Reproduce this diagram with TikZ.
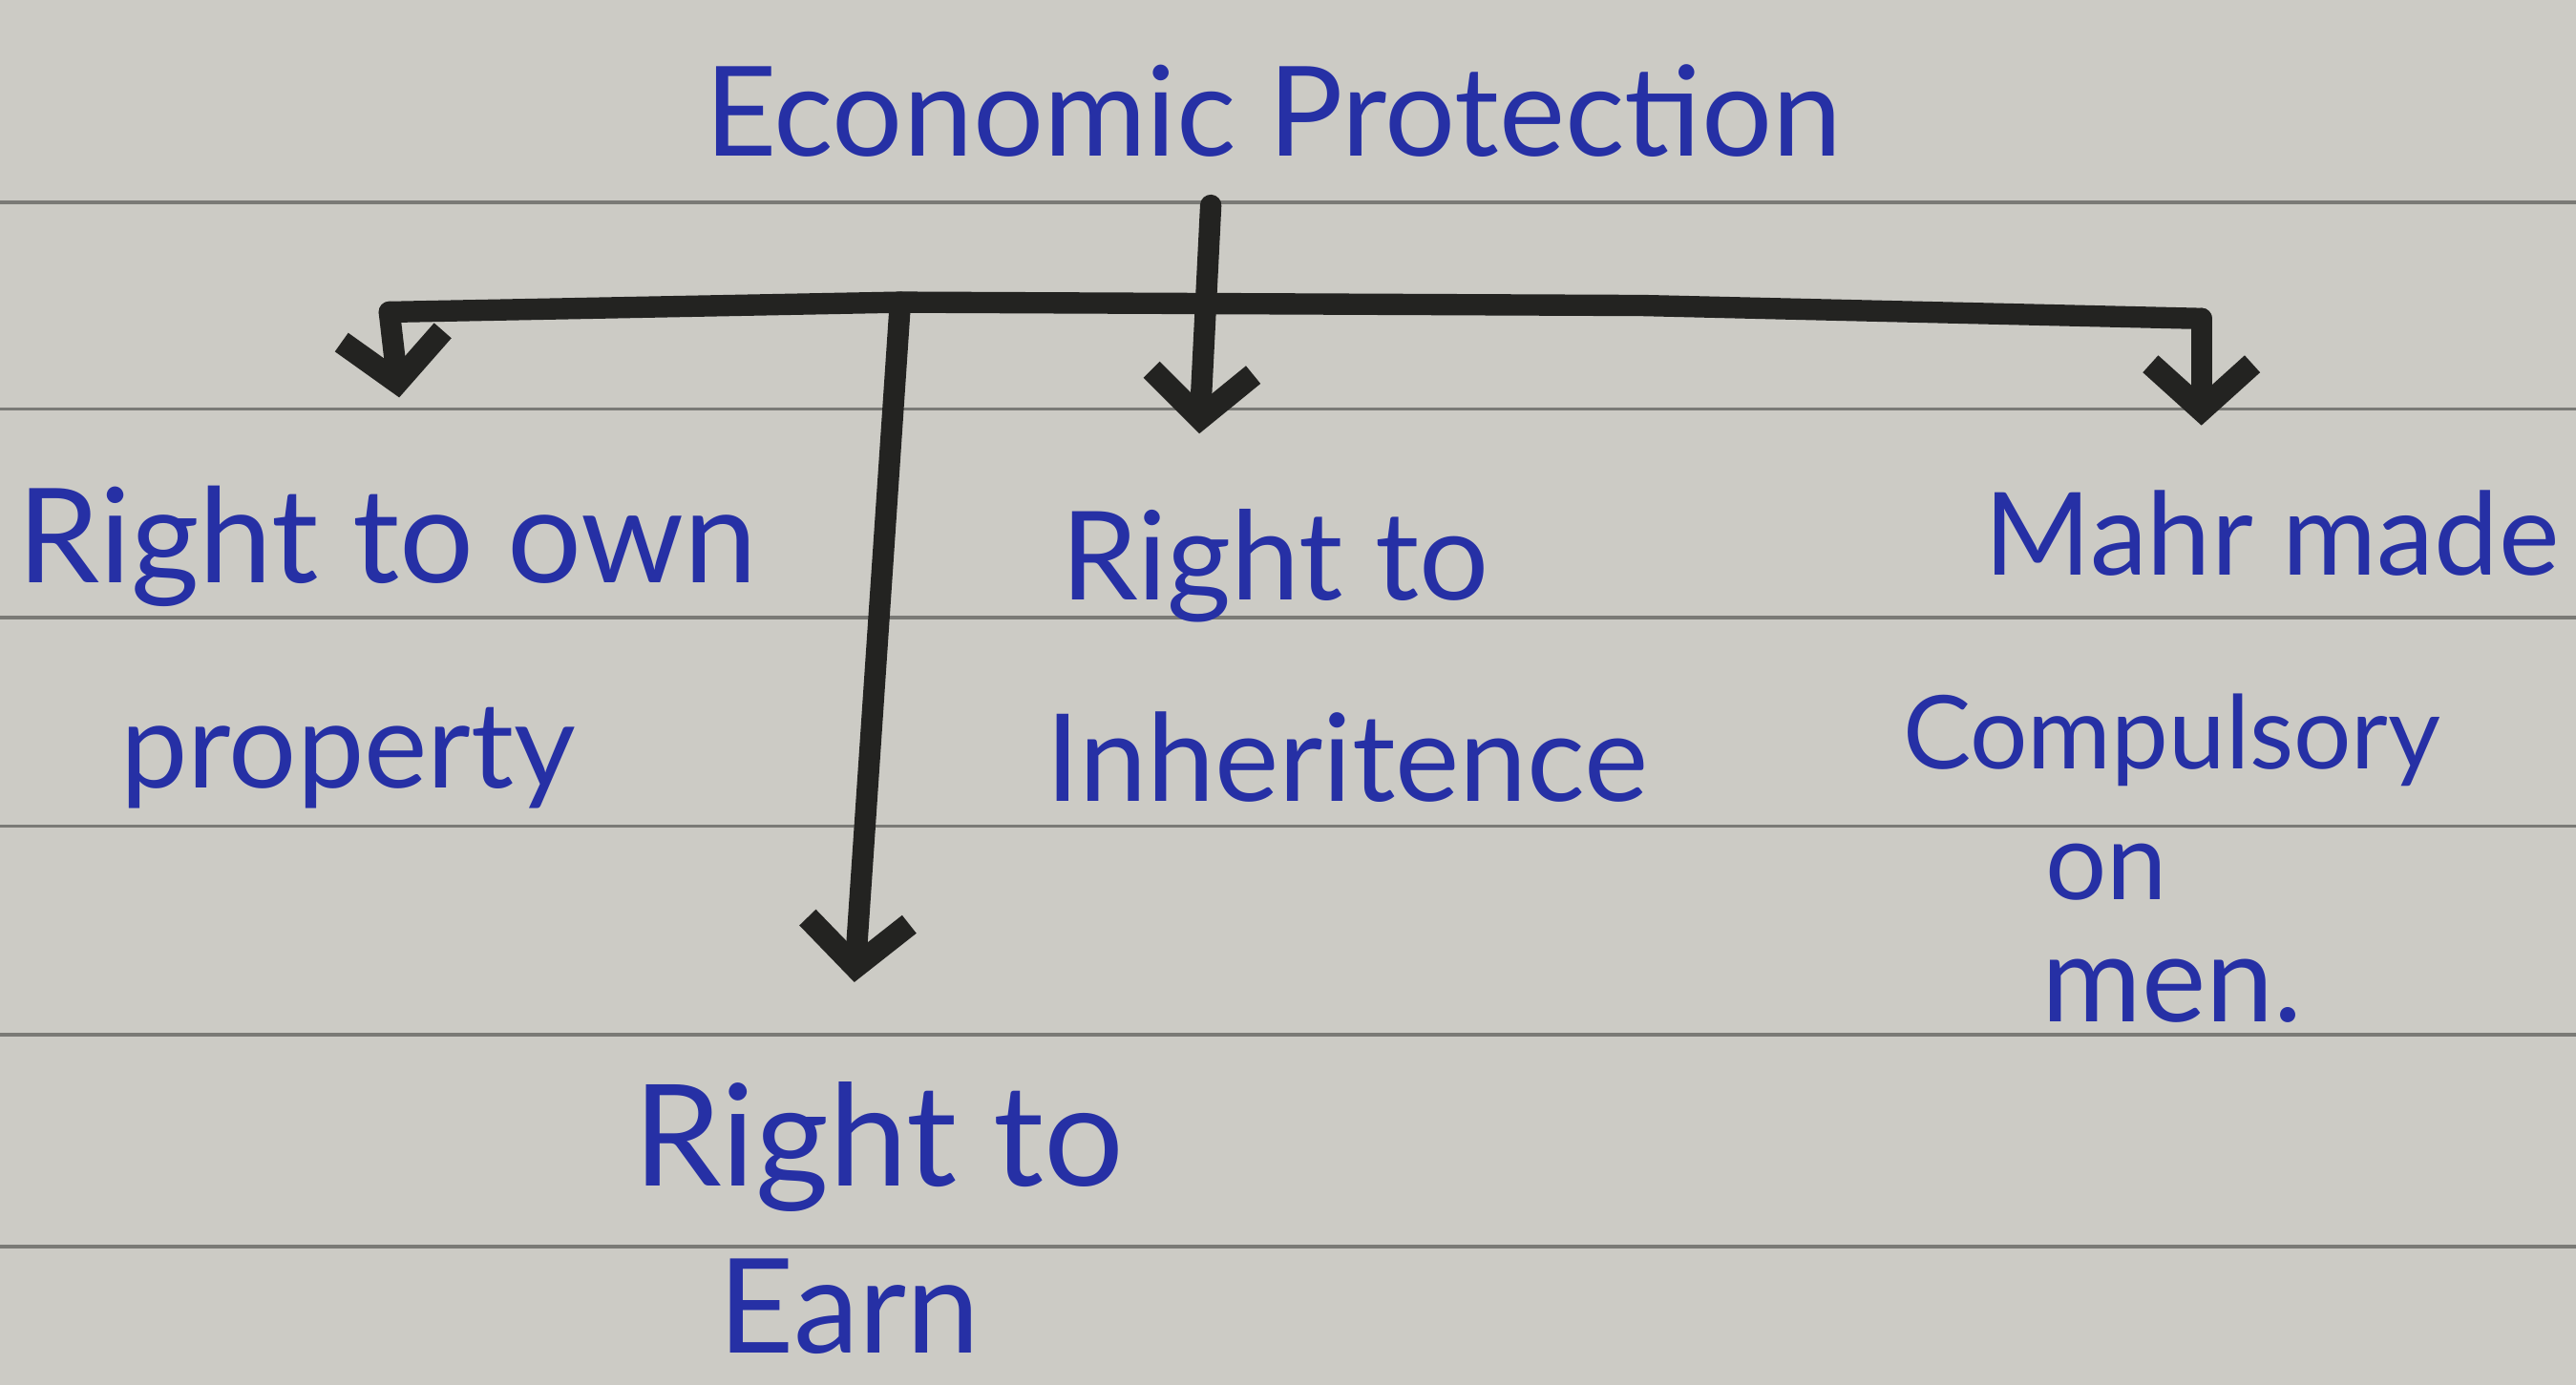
\documentclass[tikz,border=0pt]{standalone}
\usepackage{fontspec}
\setmainfont{Lato}
\usetikzlibrary{arrows.meta}
\definecolor{paper}{RGB}{204,203,197}
\definecolor{rulecol}{RGB}{122,122,118}
\definecolor{ink}{RGB}{38,48,165}
\definecolor{marker}{RGB}{35,35,33}
\begin{document}
\begin{tikzpicture}[x=1pt,y=-1pt,
  lbl/.style={text=ink, inner sep=0pt, anchor=base},
  conn/.style={draw=marker, line width=13pt, line cap=round, line join=round},
  arr/.style={conn, -{Straight Barb[length=28pt,width=62pt,line width=14pt]}},
  paperrule/.style={draw=rulecol, line width=2.2pt}]
% paper
\fill[paper] (0,0) rectangle (1568,843);
\useasboundingbox (0,0) rectangle (1568,843);
\foreach \yy in {123,249,376,503,630,759}
  \draw[paperrule] (0,\yy) -- (1568,\yy);
% texts
\node[lbl, font=\fontsize{76}{80}\selectfont] (ep) at (775,95) {Economic Protection};
\node[lbl, font=\fontsize{80}{80}\selectfont] (own1) at (236,355) {Right to own};
\node[lbl, font=\fontsize{73}{80}\selectfont] (own2) at (212,480) {property};
\node[lbl, font=\fontsize{75}{80}\selectfont] (inh1) at (776,365) {Right to};
\node[lbl, font=\fontsize{74}{80}\selectfont] (inh2) at (820,488) {Inheritence};
\node[lbl, font=\fontsize{70}{80}\selectfont] (mahr1) at (1383,350) {Mahr made};
\node[lbl, font=\fontsize{62}{80}\selectfont] (mahr2) at (1322,468) {Compulsory};
\node[lbl, font=\fontsize{66}{80}\selectfont, text depth=0pt] (mahr3) at (1282,548) {on};
\node[lbl, font=\fontsize{74}{80}\selectfont] (mahr4) at (1322,622) {men.};
\node[lbl, font=\fontsize{86}{90}\selectfont] (earn1) at (535,722) {Right to};
\node[lbl, font=\fontsize{80}{90}\selectfont, text depth=0pt] (earn2) at (517,824) {Earn};
% connectors
\coordinate (stemtop) at (737,125);
\coordinate (jL) at (237,190);
\coordinate (jE) at (548,184);
\coordinate (jR) at (1340,194);
\coordinate (tipL) at (243,242);
\coordinate (tipM) at (730,264);
\coordinate (tipE) at (520,598);
\coordinate (tipR) at (1340,259);
\draw[conn] (jL) -- (jE) -- (1000,186) -- (jR);
\draw[arr] (jL) -- (tipL);
\draw[arr] (stemtop) -- (tipM);
\draw[arr] (jE) -- (tipE);
\draw[arr] (jR) -- (tipR);
\end{tikzpicture}
\end{document}
